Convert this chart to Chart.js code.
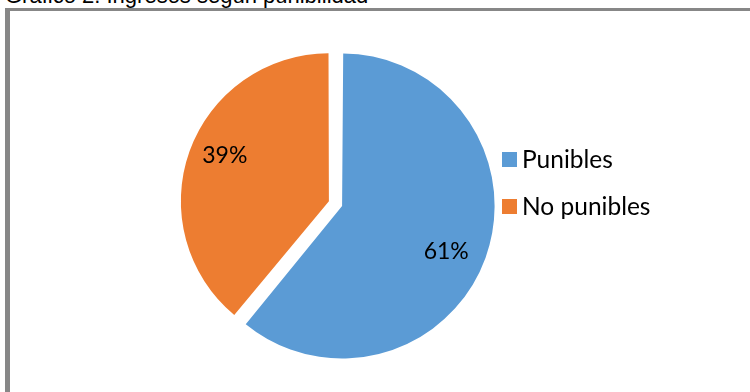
<!DOCTYPE html>
<html>
<head>
<meta charset="utf-8">
<script src="https://cdn.jsdelivr.net/npm/chart.js@4.4.1/dist/chart.umd.min.js"></script>
<style>
  html, body { margin:0; padding:0; background:#fff; overflow:hidden; }
  body { width:750px; height:392px; position:relative; }
  #caption { position:absolute; left:5px; top:-15px; font:22px/22px "Liberation Sans", Arial, sans-serif; color:#000; white-space:nowrap; }
  #frame { position:absolute; left:5px; top:8px; width:800px; height:420px; border-left:5px solid #878787; border-top:3px solid #878787; }
  #wrap { position:absolute; left:0; top:0; width:750px; height:392px; }
</style>
</head>
<body>
<div id="caption">Gráfico 2. Ingresos según punibilidad</div>
<div id="frame"></div>
<div id="wrap"><canvas id="pie"></canvas></div>
<script>
// Ingresos según punibilidad (porcentaje)
const categories = ['Punibles', 'No punibles'];
const shares = [61, 39];
const sliceColors = ['#5B9BD5', '#ED7D31'];

const pctFont = '23px Lato, "Noto Sans", sans-serif';
const legendFont = '24.5px Lato, "Noto Sans", sans-serif';
const sliceOffset = 28;   // Chart.js shifts each arc by offset/4

// percentage text inside each slice
const pctLabels = {
  id: 'pctLabels',
  afterDatasetsDraw(chart) {
    const ctx = chart.ctx;
    const meta = chart.getDatasetMeta(0);
    const total = shares.reduce((a, b) => a + b, 0);
    ctx.save();
    ctx.font = pctFont;
    ctx.fillStyle = '#000';
    ctx.textAlign = 'center';
    ctx.textBaseline = 'middle';
    meta.data.forEach((arc, i) => {
      const mid = (arc.startAngle + arc.endAngle) / 2 + 0.06;
      const r = arc.outerRadius * 0.78 + sliceOffset / 4;
      const x = arc.x + Math.cos(mid) * r;
      const y = arc.y + Math.sin(mid) * r;
      ctx.fillText(Math.round(shares[i] / total * 100) + '%', x, y);
    });
    ctx.restore();
  }
};

// legend on the right, square swatches
const sideLegend = {
  id: 'sideLegend',
  afterDraw(chart) {
    const ctx = chart.ctx;
    const boxX = 502, firstY = 159.5, rowStep = 47, box = 15;
    ctx.save();
    ctx.font = legendFont;
    ctx.textBaseline = 'middle';
    categories.forEach((name, i) => {
      const cy = firstY + i * rowStep;
      ctx.fillStyle = sliceColors[i];
      ctx.fillRect(boxX, cy - box / 2, box, box);
      ctx.fillStyle = '#000';
      ctx.fillText(name, boxX + box + 5, cy + 1);
    });
    ctx.restore();
  }
};

new Chart(document.getElementById('pie'), {
  type: 'pie',
  data: {
    labels: categories,
    datasets: [{
      data: shares,
      backgroundColor: sliceColors,
      borderWidth: 0,
      offset: sliceOffset
    }]
  },
  options: {
    responsive: true,
    maintainAspectRatio: false,
    animation: false,
    radius: 145.5,
    layout: { padding: { left: 60, right: 139, top: 30, bottom: 14.8 } },
    plugins: {
      legend: { display: false },
      tooltip: { enabled: false }
    }
  },
  plugins: [pctLabels, sideLegend]
});
</script>
</body>
</html>
